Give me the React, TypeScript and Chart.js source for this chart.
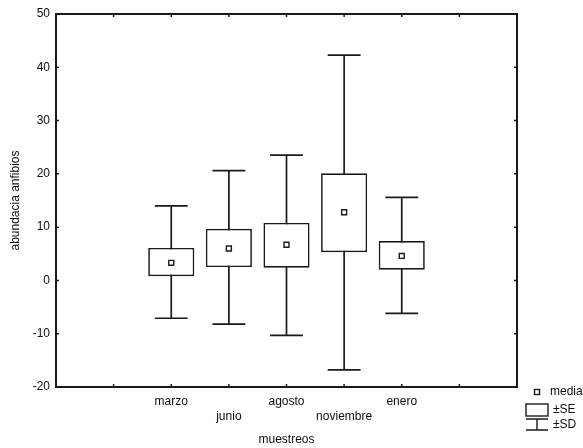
import React, { useEffect, useRef } from 'react';
import { Chart, registerables } from 'chart.js';

Chart.register(...registerables);

const categories = ['marzo', 'junio', 'agosto', 'noviembre', 'enero'];
const positions = [2, 3, 4, 5, 6];
const staggered = [false, true, false, true, false];
const means = [3.3, 6.0, 6.7, 12.8, 4.6];
const seLow = [0.8, 2.5, 2.4, 5.3, 2.0];
const seHigh = [6.1, 9.7, 10.8, 20.1, 7.4];
const sdLow = [-7.1, -8.2, -10.3, -16.8, -6.2];
const sdHigh = [14.0, 20.6, 23.5, 42.3, 15.6];
const yMin = -20;
const yMax = 50;
const yStep = 10;
const xMin = 0;
const xMax = 8;
const xTickValues = [1, 2, 3, 4, 5, 6, 7];
const legendLabels = ['media', '±SE', '±SD'];
const yTitle = 'abundacia anfibios';
const xTitle = 'muestreos';

const INK = '#1a1a1a';
const TEXT = '#0d0d0d';
const FONT = "'Liberation Sans', Arial, sans-serif";

const whiskerPlugin = {
  id: 'whiskers',
  beforeDatasetsDraw(chart: any) {
    const { ctx, scales } = chart;
    const x = scales.x;
    const y = scales.y;
    const unit = x.getPixelForValue(1) - x.getPixelForValue(0);
    const half = unit * 0.285;
    ctx.save();
    ctx.strokeStyle = INK;
    ctx.lineWidth = 1.7;
    positions.forEach((p, i) => {
      const px = x.getPixelForValue(p);
      const top = y.getPixelForValue(sdHigh[i]);
      const bot = y.getPixelForValue(sdLow[i]);
      ctx.beginPath();
      ctx.moveTo(px, top);
      ctx.lineTo(px, bot);
      ctx.moveTo(px - half, top);
      ctx.lineTo(px + half, top);
      ctx.moveTo(px - half, bot);
      ctx.lineTo(px + half, bot);
      ctx.stroke();
    });
    ctx.restore();
  },
};

const framePlugin = {
  id: 'frame',
  afterDraw(chart: any) {
    const { ctx, chartArea, scales } = chart;
    const { left, right, top, bottom } = chartArea;
    const x = scales.x;
    const y = scales.y;
    ctx.save();
    ctx.strokeStyle = INK;
    ctx.lineWidth = 2;
    ctx.strokeRect(left, top, right - left, bottom - top);
    ctx.lineWidth = 1.5;
    ctx.beginPath();
    const tl = 3;
    for (let v = yMin; v <= yMax; v += yStep) {
      const py = y.getPixelForValue(v);
      ctx.moveTo(left, py);
      ctx.lineTo(left + tl, py);
      ctx.moveTo(right, py);
      ctx.lineTo(right - tl, py);
    }
    xTickValues.forEach((v) => {
      const px = x.getPixelForValue(v);
      ctx.moveTo(px, top);
      ctx.lineTo(px, top + tl);
      ctx.moveTo(px, bottom);
      ctx.lineTo(px, bottom - tl);
    });
    ctx.stroke();

    // legend
    const lx = 537;
    ctx.fillStyle = '#ffffff';
    ctx.lineWidth = 1.4;
    ctx.fillRect(lx - 2.5, 389.5, 5, 5);
    ctx.strokeRect(lx - 2.5, 389.5, 5, 5);
    ctx.strokeRect(526, 404, 22, 12);
    ctx.beginPath();
    ctx.moveTo(526, 419);
    ctx.lineTo(548, 419);
    ctx.moveTo(537, 419);
    ctx.lineTo(537, 430);
    ctx.moveTo(526, 430);
    ctx.lineTo(548, 430);
    ctx.stroke();
    ctx.fillStyle = TEXT;
    ctx.font = `12px ${FONT}`;
    ctx.textBaseline = 'middle';
    ctx.textAlign = 'left';
    ctx.fillText(legendLabels[0], 550, 392);
    ctx.fillText(legendLabels[1], 553, 410);
    ctx.fillText(legendLabels[2], 553, 425);
    ctx.restore();
  },
};

export default function App() {
  const ref = useRef<HTMLCanvasElement>(null);

  useEffect(() => {
    document.body.style.margin = '0';
    document.body.style.background = '#ffffff';
    if (!ref.current) return;
    const chart = new Chart(ref.current, {
      type: 'bar',
      data: {
        datasets: [
          {
            type: 'scatter',
            label: 'media',
            data: positions.map((p, i) => ({ x: p, y: means[i] })),
            pointStyle: 'rect',
            radius: 3.5,
            backgroundColor: '#ffffff',
            borderColor: INK,
            borderWidth: 1.4,
            order: 0,
          } as any,
          {
            type: 'bar',
            label: '±SE',
            data: positions.map((p, i) => ({ x: p, y: [seLow[i], seHigh[i]] })),
            backgroundColor: '#ffffff',
            borderColor: INK,
            borderWidth: 1.7,
            borderSkipped: false,
            categoryPercentage: 0.8,
            barPercentage: 1,
            order: 1,
          } as any,
        ],
      },
      options: {
        responsive: false,
        animation: false,
        devicePixelRatio: 1,
        layout: { padding: { left: 0, top: 14, right: 66, bottom: 0 } },
        plugins: { legend: { display: false }, tooltip: { enabled: false } },
        scales: {
          x: {
            type: 'linear',
            min: xMin,
            max: xMax,
            offset: false,
            grid: { display: false, drawTicks: false },
            border: { display: false },
            afterFit: (s: any) => {
              s.height = 61;
            },
            afterBuildTicks: (s: any) => {
              s.ticks = [xMin, ...xTickValues, xMax].map((v) => ({ value: v }));
            },
            ticks: {
              autoSkip: false,
              maxRotation: 0,
              padding: 7.5,
              color: TEXT,
              font: { family: FONT, size: 12, lineHeight: 1.25 },
              callback: (value: any) => {
                const i = positions.indexOf(Number(value));
                if (i < 0) return '';
                return staggered[i] ? ['', categories[i]] : categories[i];
              },
            },
            title: {
              display: true,
              text: xTitle,
              color: TEXT,
              font: { family: FONT, size: 12 },
              padding: { top: 0, bottom: 1 },
            },
          },
          y: {
            min: yMin,
            max: yMax,
            grid: { display: false, drawTicks: false },
            border: { display: false },
            afterFit: (s: any) => {
              s.width = 56;
            },
            ticks: {
              stepSize: yStep,
              padding: 6,
              color: TEXT,
              font: { family: FONT, size: 12 },
            },
            title: {
              display: true,
              text: yTitle,
              color: TEXT,
              font: { family: FONT, size: 12 },
              padding: { top: 8, bottom: 0 },
            },
          },
        },
      } as any,
      plugins: [whiskerPlugin, framePlugin],
    });
    return () => chart.destroy();
  }, []);

  return (
    <div style={{ width: 583, height: 448 }}>
      <canvas ref={ref} width={583} height={448} style={{ display: 'block' }} />
    </div>
  );
}
